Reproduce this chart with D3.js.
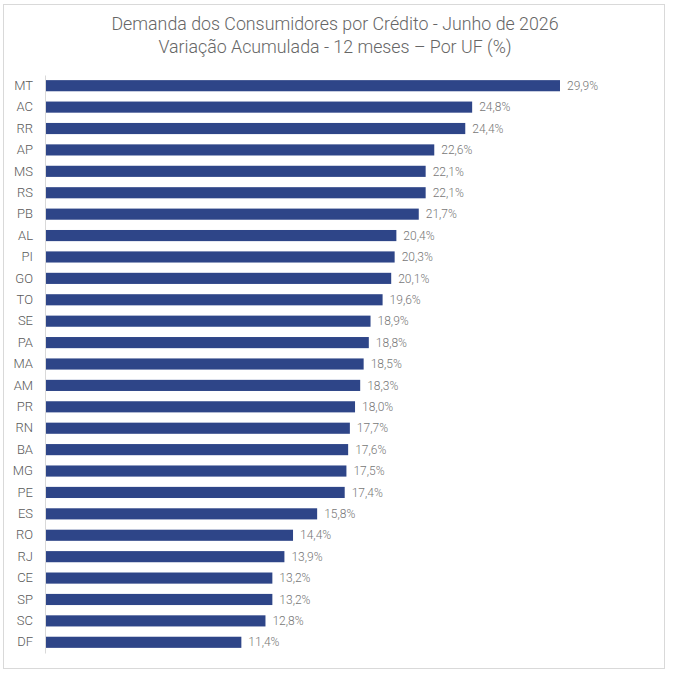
<!DOCTYPE html>
<html>
<head>
<meta charset="utf-8">
<script src="https://cdn.jsdelivr.net/npm/d3@7"></script>
<style>
  body { margin: 0; background: #fff; }
  svg text { font-family: Roboto, "Noto Sans", sans-serif; }
</style>
</head>
<body>
<div id="chart"></div>
<script>
// UFs, ordered as in the chart (top to bottom)
const ufs = ['MT','AC','RR','AP','MS','RS','PB','AL','PI','GO','TO','SE','PA','MA','AM','PR','RN','BA','MG','PE','ES','RO','RJ','CE','SP','SC','DF'];
const values = [29.9,24.8,24.4,22.6,22.1,22.1,21.7,20.4,20.3,20.1,19.6,18.9,18.8,18.5,18.3,18.0,17.7,17.6,17.5,17.4,15.8,14.4,13.9,13.2,13.2,12.8,11.4];
const titleLines = ['Demanda dos Consumidores por Crédito - Junho de 2026', 'Variação Acumulada - 12 meses \u2013 Por UF (%)'];

const W = 673, H = 677;
const margin = {top: 75, left: 45, bottom: 24};
const data = ufs.map((uf, i) => ({uf, value: values[i]}));

const svg = d3.select('#chart').append('svg')
    .attr('width', W)
    .attr('height', H);

// outer frame
svg.append('rect')
    .attr('x', 3.5).attr('y', 4.5)
    .attr('width', 661).attr('height', 664)
    .attr('fill', '#fff')
    .attr('stroke', '#d9d9d9');

svg.selectAll('text.title')
    .data(titleLines)
    .enter().append('text')
    .attr('class', 'title')
    .attr('x', 335)
    .attr('y', (d, i) => 30 + i * 23)
    .attr('text-anchor', 'middle')
    .attr('font-size', 17.8)
    .attr('font-weight', 300)
    .attr('fill', '#666')
    .text(d => d);

const x = d3.scaleLinear().domain([0, 29.9]).range([margin.left, 560]);
const y = d3.scaleBand().domain(ufs).range([margin.top, 653]).paddingInner(0.48).paddingOuter(0.24);

const fmt = v => d3.format('.1f')(v).replace('.', ',') + '%';

svg.selectAll('rect.bar')
    .data(data)
    .enter().append('rect')
    .attr('class', 'bar')
    .attr('x', x(0))
    .attr('y', d => y(d.uf))
    .attr('width', d => x(d.value) - x(0))
    .attr('height', y.bandwidth())
    .attr('fill', '#2e4588');

svg.selectAll('text.val')
    .data(data)
    .enter().append('text')
    .attr('class', 'val')
    .attr('x', d => x(d.value) + 7)
    .attr('y', d => y(d.uf) + y.bandwidth() / 2)
    .attr('dy', '0.35em')
    .attr('font-size', 12)
    .attr('font-weight', 300)
    .attr('fill', '#777')
    .text(d => fmt(d.value));

// category axis
const yAxis = d3.axisLeft(y).tickSize(0).tickPadding(12);
const gy = svg.append('g')
    .attr('transform', 'translate(' + x(0) + ',0)')
    .call(yAxis);
gy.select('.domain').attr('stroke', '#d9d9d9');
gy.selectAll('text')
    .attr('font-size', 13)
    .attr('font-weight', 300)
    .attr('fill', '#5a5a5a');
</script>
</body>
</html>
